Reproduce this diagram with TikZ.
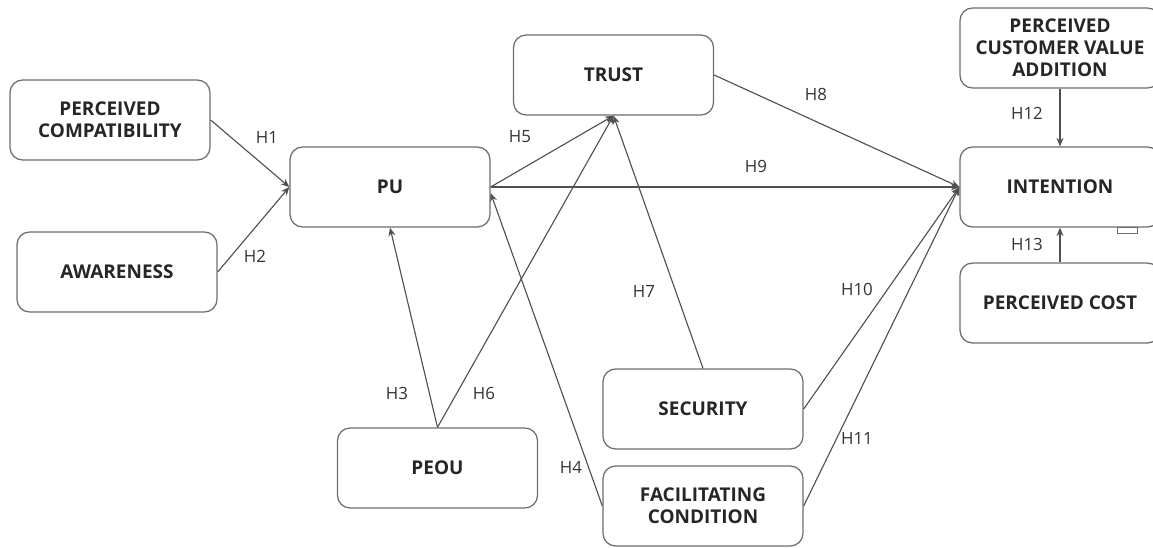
\documentclass[tikz,border=0pt]{standalone}
\usepackage{fontspec}
\setmainfont{Open Sans}
\usepackage{tikz}
\usetikzlibrary{arrows.meta,positioning}
\definecolor{boxgray}{RGB}{110,110,110}
\definecolor{linegray}{RGB}{80,80,80}

\begin{document}
\begin{tikzpicture}[
  x=0.025cm, y=-0.025cm,
  n/.style={rectangle, draw=boxgray, fill=white, line width=0.9pt, rounded corners=9pt,
            minimum width=5cm, minimum height=2cm, align=center,
            font=\fontsize{13.5}{15.5}\selectfont\bfseries, text=black!85},
  arr/.style={-{Stealth[length=6pt,width=5pt]}, line width=0.8pt, linegray},
  hyp/.style={font=\fontsize{12}{14}\selectfont, text=black!80, inner sep=1pt}
]
  \useasboundingbox (0,0) rectangle (1153,547);
  % constructs
  \node[n] (pc)    at (110,120)  {PERCEIVED\\COMPATIBILITY};
  \node[n] (aw)    at (117,272)  {AWARENESS};
  \node[n] (pu)    at (390,187)  {PU};
  \node[n] (trust) at (613.5,75) {TRUST};
  \node[n] (peou)  at (437.5,468) {PEOU};
  \node[n] (sec)   at (703,409)  {SECURITY};
  \node[n] (fc)    at (703,506)  {FACILITATING\\CONDITION};
  \node[n] (pcva)  at (1060,48)  {PERCEIVED\\CUSTOMER VALUE\\ADDITION};
  \node[n] (int)   at (1060,187) {INTENTION};
  \node[n] (cost)  at (1060,303) {PERCEIVED COST};
  \node[draw=boxgray, line width=0.8pt, minimum width=0.5cm, minimum height=0.15cm,
        inner sep=0pt] (tab) at (1127.5,230.5) {};

  % hypotheses
  \draw[arr] (pc.east) -- (pu.west);
  \draw[arr] (aw.east) -- (pu.west);
  \draw[arr] (peou.north) -- (pu.south);
  \draw[arr] (fc.west) -- ([yshift=-0.15cm]pu.east);
  \draw[arr] (pu.east) -- (trust.south);
  \draw[arr] (peou.north) -- (trust.south);
  \draw[arr] (sec.north) -- (trust.south);
  \draw[arr] (trust.east) -- (int.west);
  \draw[arr] (pu.east) -- (int.west);
  \draw[arr] (sec.east) -- (int.west);
  \draw[arr] (fc.east) -- (int.west);
  \draw[arr] (pcva.south) -- (int.north);
  \draw[arr] (cost.north) -- (int.south);

  \node[hyp] (h1)  at (267,137)  {H1};
  \node[hyp] (h2)  at (255,256)  {H2};
  \node[hyp] (h3)  at (397,393)  {H3};
  \node[hyp] (h4)  at (571,467)  {H4};
  \node[hyp] (h5)  at (520,137)  {H5};
  \node[hyp] (h6)  at (484,393)  {H6};
  \node[hyp] (h7)  at (644,291)  {H7};
  \node[hyp] (h8)  at (816,94)   {H8};
  \node[hyp] (h9)  at (756,166)  {H9};
  \node[hyp] (h10) at (857,289)  {H10};
  \node[hyp] (h11) at (857,438)  {H11};
  \node[hyp] (h12) at (1027,113) {H12};
  \node[hyp] (h13) at (1027,244) {H13};
\end{tikzpicture}
\end{document}
